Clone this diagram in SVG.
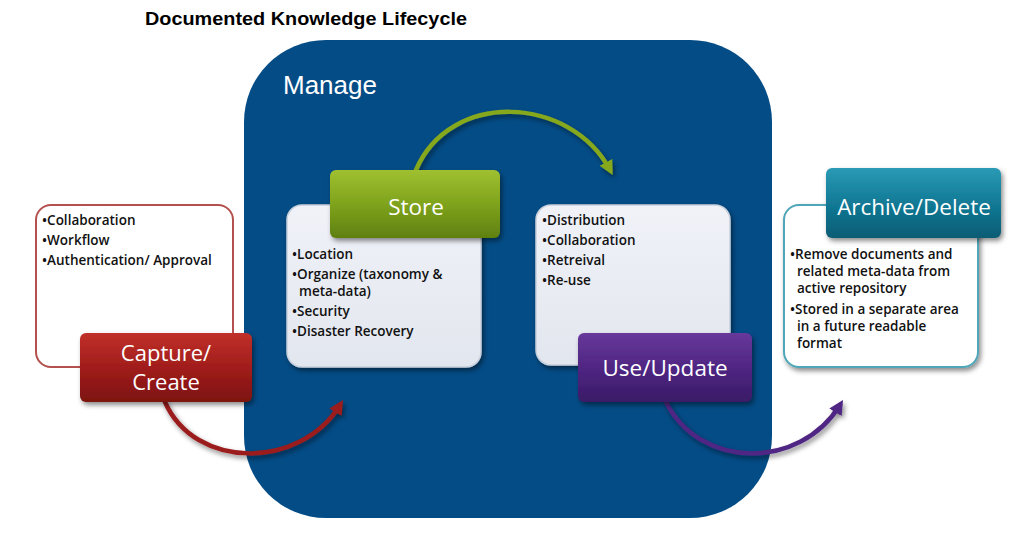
<svg xmlns="http://www.w3.org/2000/svg" width="1022" height="536" viewBox="0 0 1022 536">
<style>
.title{font-family:"Liberation Sans",Arial,sans-serif;font-weight:bold;font-size:18.5px;fill:#000}
.manage{font-family:"Liberation Sans",Arial,sans-serif;font-size:26px;fill:#fff}
.btn{font-family:"Open Sans","Noto Sans",sans-serif;font-size:22.5px;fill:#fff;text-anchor:middle}
.bul{font-family:"Open Sans","Noto Sans",sans-serif;font-weight:600;font-size:13.5px;fill:#111}
.conn{fill:none;stroke-width:4.5;stroke-linecap:round}
</style>
<defs>
<filter id="sh" x="-20%" y="-20%" width="150%" height="160%">
<feDropShadow dx="2" dy="3" stdDeviation="2.5" flood-color="#000" flood-opacity="0.45"/>
</filter>
<linearGradient id="gRed" x1="0" y1="0" x2="0" y2="1"><stop offset="0" stop-color="#c0302a"/><stop offset="0.5" stop-color="#a11d1b"/><stop offset="1" stop-color="#7d1210"/></linearGradient>
<linearGradient id="gGreen" x1="0" y1="0" x2="0" y2="1"><stop offset="0" stop-color="#9fc030"/><stop offset="0.5" stop-color="#7fa31c"/><stop offset="1" stop-color="#5f8010"/></linearGradient>
<linearGradient id="gPurple" x1="0" y1="0" x2="0" y2="1"><stop offset="0" stop-color="#67389a"/><stop offset="0.5" stop-color="#4f2683"/><stop offset="1" stop-color="#3a1a66"/></linearGradient>
<linearGradient id="gTeal" x1="0" y1="0" x2="0" y2="1"><stop offset="0" stop-color="#2a9ab5"/><stop offset="0.5" stop-color="#127a96"/><stop offset="1" stop-color="#0b5c74"/></linearGradient>
<linearGradient id="gLight" x1="0" y1="0" x2="0" y2="1"><stop offset="0" stop-color="#f0f2f8"/><stop offset="1" stop-color="#e2e6ee"/></linearGradient>
<marker id="aRed" viewBox="0 0 10 10" refX="6" refY="5" markerWidth="3.2" markerHeight="3.2" orient="auto"><path d="M0,0 L10,5 L0,10 z" fill="#9b1c1c"/></marker>
<marker id="aGreen" viewBox="0 0 10 10" refX="6" refY="5" markerWidth="3.2" markerHeight="3.2" orient="auto"><path d="M0,0 L10,5 L0,10 z" fill="#86a81f"/></marker>
<marker id="aPurple" viewBox="0 0 10 10" refX="6" refY="5" markerWidth="3.2" markerHeight="3.2" orient="auto"><path d="M0,0 L10,5 L0,10 z" fill="#4f2683"/></marker>
</defs>
<rect width="1022" height="536" fill="#fff"/>
<text class="title" x="145" y="25" textLength="322" lengthAdjust="spacingAndGlyphs">Documented Knowledge Lifecycle</text>

<g id="manage">
<rect x="244" y="40" width="528" height="478" rx="82" fill="#044c86"/>
<text class="manage" x="283" y="94">Manage</text>
</g>

<g id="connectors">
<path class="conn" d="M165,402 C195,470 300,470 340,405" stroke="#9b1c1c" marker-end="url(#aRed)" filter="url(#sh)"/>
<path class="conn" d="M416,170 C450,90 570,95 610,170" stroke="#86a81f" marker-end="url(#aGreen)" filter="url(#sh)"/>
<path class="conn" d="M666,402 C700,470 800,470 840,405" stroke="#4f2683" marker-end="url(#aPurple)" filter="url(#sh)"/>
</g>

<g id="capture">
<rect x="36" y="205" width="197" height="162" rx="15" fill="#fff" stroke="#b4514f" stroke-width="2"/>
<text class="bul" x="42" y="225">•Collaboration</text>
<text class="bul" x="42" y="245">•Workflow</text>
<text class="bul" x="42" y="265">•Authentication/ Approval</text>
<rect x="80" y="333" width="172" height="69" rx="6" fill="url(#gRed)" filter="url(#sh)"/>
<text class="btn" x="166" y="361" style="font-size:22px">Capture/</text>
<text class="btn" x="166" y="390" style="font-size:22px">Create</text>
</g>

<g id="store">
<rect x="287" y="205" width="194" height="162" rx="15" fill="url(#gLight)" stroke="#c8d0dc" stroke-width="1.5" filter="url(#sh)"/>
<text class="bul" x="292" y="259">•Location</text>
<text class="bul" x="292" y="279">•Organize (taxonomy &amp;</text>
<text class="bul" x="299" y="296">meta-data)</text>
<text class="bul" x="292" y="316">•Security</text>
<text class="bul" x="292" y="336">•Disaster Recovery</text>
<rect x="330" y="170" width="170" height="68" rx="6" fill="url(#gGreen)" filter="url(#sh)"/>
<text class="btn" x="416" y="215">Store</text>
</g>

<g id="use">
<rect x="536" y="205" width="194" height="160" rx="15" fill="url(#gLight)" stroke="#c8d0dc" stroke-width="1.5" filter="url(#sh)"/>
<text class="bul" x="542" y="225">•Distribution</text>
<text class="bul" x="542" y="245">•Collaboration</text>
<text class="bul" x="542" y="265">•Retreival</text>
<text class="bul" x="542" y="285">•Re-use</text>
<rect x="578" y="333" width="174" height="69" rx="6" fill="url(#gPurple)" filter="url(#sh)"/>
<text class="btn" x="665" y="376">Use/Update</text>
</g>

<g id="archive">
<rect x="784" y="205" width="194" height="162" rx="15" fill="#fff" stroke="#4fa6b8" stroke-width="2" filter="url(#sh)"/>
<text class="bul" x="790" y="259">•Remove documents and</text>
<text class="bul" x="797" y="276">related meta-data from</text>
<text class="bul" x="797" y="293">active repository</text>
<text class="bul" x="790" y="314">•Stored in a separate area</text>
<text class="bul" x="797" y="331">in a future readable</text>
<text class="bul" x="797" y="348">format</text>
<rect x="826" y="168" width="175" height="70" rx="6" fill="url(#gTeal)" filter="url(#sh)"/>
<text class="btn" x="914" y="215">Archive/Delete</text>
</g>
</svg>
